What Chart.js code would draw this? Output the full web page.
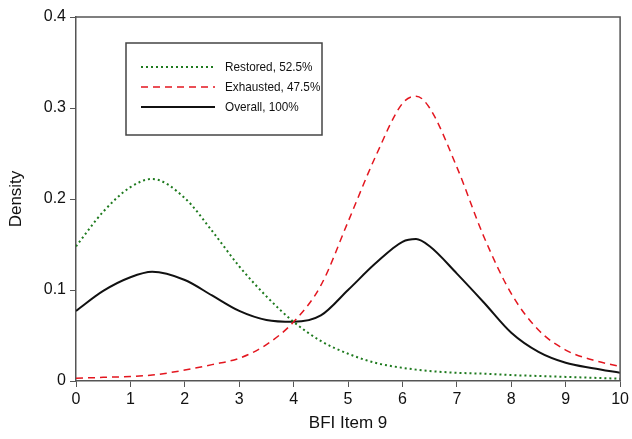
<!DOCTYPE html>
<html>
<head>
<meta charset="utf-8">
<script src="https://cdn.jsdelivr.net/npm/chart.js@4.4.1/dist/chart.umd.min.js"></script>
<style>
html,body{margin:0;padding:0;background:#fff;}
#wrap{width:632px;height:439px;}
</style>
</head>
<body>
<div id="wrap"><canvas id="c" width="632" height="439"></canvas></div>
<script>
const xValues = [0,0.5,1,1.4,2,2.5,3,3.5,4,4.5,5,5.5,6,6.25,6.5,7,7.5,8,8.5,9,9.5,10];
const restored = [0.148,0.186,0.213,0.222,0.201,0.165,0.126,0.093,0.065,0.044,0.030,0.020,0.0145,0.0125,0.011,0.009,0.008,0.0065,0.0055,0.0045,0.0035,0.0025];
const exhausted = [0.003,0.004,0.005,0.0065,0.012,0.018,0.025,0.040,0.065,0.105,0.175,0.246,0.305,0.313,0.300,0.235,0.158,0.096,0.056,0.034,0.023,0.016];
const overall = [0.077,0.099,0.114,0.120,0.111,0.094,0.077,0.067,0.065,0.072,0.100,0.129,0.153,0.156,0.148,0.118,0.086,0.053,0.032,0.020,0.014,0.009];
const seriesLabels = ['Restored, 52.5%','Exhausted, 47.5%','Overall, 100%'];
const xTicks = [0,1,2,3,4,5,6,7,8,9,10];
const yTicks = [0,0.1,0.2,0.3,0.4];

const pts = arr => xValues.map((x,i)=>({x:x,y:arr[i]}));

const framePlugin = {
  id:'frame',
  afterDatasetsDraw(chart){
    const {ctx, chartArea:a} = chart;
    ctx.save();
    ctx.strokeStyle = '#555';
    ctx.lineWidth = 1.5;
    ctx.beginPath();
    ctx.moveTo(a.left, a.top); ctx.lineTo(a.right, a.top); ctx.lineTo(a.right, a.bottom);
    ctx.stroke();
    // legend box
    const bx = 126, by = 43, bw = 196, bh = 92;
    ctx.fillStyle = '#fff';
    ctx.fillRect(bx, by, bw, bh);
    ctx.strokeStyle = '#444';
    ctx.lineWidth = 1.5;
    ctx.strokeRect(bx, by, bw, bh);
    ctx.textBaseline = 'middle';
    chart.data.datasets.forEach((ds, i) => {
      const y = 67 + i*20;
      ctx.beginPath();
      ctx.strokeStyle = ds.borderColor;
      ctx.lineWidth = ds.borderWidth;
      ctx.setLineDash(ds.borderDash || []);
      ctx.moveTo(141, y); ctx.lineTo(215, y);
      ctx.stroke();
      ctx.setLineDash([]);
      ctx.save();
      ctx.translate(225, y);
      ctx.scale(0.87, 1);
      ctx.font = '13.5px "Liberation Sans", Arial, sans-serif';
      ctx.fillStyle = '#111';
      ctx.fillText(ds.label, 0, 0);
      ctx.restore();
    });
    ctx.restore();
  }
};

new Chart(document.getElementById('c'), {
  type:'line',
  data:{
    datasets:[
      {label:seriesLabels[0], data:pts(restored), borderColor:'#1e7a1e', borderWidth:2, borderDash:[2,3], pointRadius:0, cubicInterpolationMode:'monotone', fill:false},
      {label:seriesLabels[1], data:pts(exhausted), borderColor:'#e3161f', borderWidth:1.5, borderDash:[7,5], pointRadius:0, cubicInterpolationMode:'monotone', fill:false},
      {label:seriesLabels[2], data:pts(overall), borderColor:'#111', borderWidth:2, pointRadius:0, cubicInterpolationMode:'monotone', fill:false}
    ]
  },
  options:{
    responsive:false,
    animation:false,
    layout:{padding:{left:0, right:10, top:17, bottom:0}},
    plugins:{legend:{display:false}, tooltip:{enabled:false}},
    scales:{
      x:{
        type:'linear', min:0, max:10,
        afterBuildTicks: s => { s.ticks = xTicks.map(v=>({value:v})); },
        afterFit: s => { s.height = 58; },
        grid:{display:true, drawOnChartArea:false, drawTicks:true, tickLength:6, color:'#555', lineWidth:1},
        border:{display:true, color:'#555', width:1.5},
        ticks:{color:'#111', font:{size:16, family:'"Liberation Sans", Arial, sans-serif'}, padding:3, maxRotation:0},
        title:{display:true, text:'BFI Item 9', color:'#111', font:{size:17, family:'"Liberation Sans", Arial, sans-serif'}, padding:{top:0,bottom:5}}
      },
      y:{
        type:'linear', min:0, max:0.4,
        afterBuildTicks: s => { s.ticks = yTicks.map(v=>({value:v})); },
        afterFit: s => { s.width = 76; },
        grid:{display:true, drawOnChartArea:false, drawTicks:true, tickLength:6, color:'#555', lineWidth:1},
        border:{display:true, color:'#555', width:1.5},
        ticks:{color:'#111', font:{size:16, family:'"Liberation Sans", Arial, sans-serif'}, padding:4, callback: v => String(Math.round(v*10)/10)},
        title:{display:true, text:'Density', color:'#111', font:{size:17, family:'"Liberation Sans", Arial, sans-serif'}, padding:{top:6,bottom:0}}
      }
    }
  },
  plugins:[framePlugin]
});
</script>
</body>
</html>
